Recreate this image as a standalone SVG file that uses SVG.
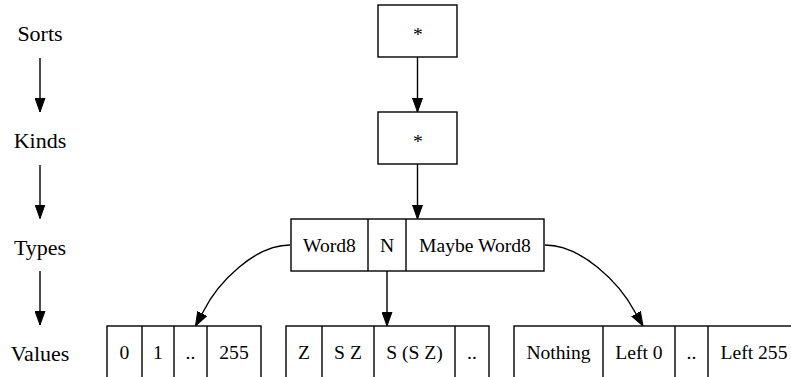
<svg xmlns="http://www.w3.org/2000/svg" width="791" height="377" viewBox="0 0 791 377">
<style>
text{font-family:"Liberation Serif","Times New Roman",serif;font-size:19.6px;fill:#000;text-anchor:middle}
.lbl{font-size:22px}
.box{fill:#fff;stroke:#000;stroke-width:1.4}
.div{stroke:#000;stroke-width:1.4}
.edge{fill:none;stroke:#000;stroke-width:1.4}
</style>
<defs>
<marker id="ah" markerUnits="userSpaceOnUse" markerWidth="15" markerHeight="11" refX="14" refY="5" orient="auto" viewBox="0 0 15 10">
<path d="M0,0 L14,5 L0,10 z" fill="#000" stroke="#000" stroke-width="1"/>
</marker>
</defs>
<rect width="791" height="377" fill="#fff"/>
<g id="edges">
<path class="edge" d="M40,58 L40,112" marker-end="url(#ah)"/>
<path class="edge" d="M40,165 L40,218.5" marker-end="url(#ah)"/>
<path class="edge" d="M40,271 L40,325" marker-end="url(#ah)"/>
<path class="edge" d="M417.5,57 L417.5,112" marker-end="url(#ah)"/>
<path class="edge" d="M417.5,164 L417.5,219" marker-end="url(#ah)"/>
<path class="edge" d="M387,271 L387,326" marker-end="url(#ah)"/>
<path class="edge" d="M290,245 C255,245 218,282 203,312 L195.5,326" marker-end="url(#ah)"/>
<path class="edge" d="M545,245 C581,245 619,282 635,312 L643,326" marker-end="url(#ah)"/>
</g>
<g id="label-sorts"><text class="lbl" x="40" y="41">Sorts</text></g>
<g id="label-kinds"><text class="lbl" x="40" y="148">Kinds</text></g>
<g id="label-types"><text class="lbl" x="40" y="255">Types</text></g>
<g id="label-values"><text class="lbl" x="40" y="361">Values</text></g>
<g id="sort-star">
<rect class="box" x="378" y="5" width="79" height="52"/>
<text x="418" y="40.5">*</text>
</g>
<g id="kind-star">
<rect class="box" x="378" y="112" width="79" height="52"/>
<text x="418" y="147.5">*</text>
</g>
<g id="types">
<rect class="box" x="291" y="219" width="253" height="52"/>
<line class="div" x1="368" y1="219" x2="368" y2="271"/>
<line class="div" x1="406" y1="219" x2="406" y2="271"/>
<text x="329.5" y="252">Word8</text>
<text x="387" y="252">N</text>
<text x="475" y="252">Maybe Word8</text>
</g>
<g id="values-word8">
<rect class="box" x="107" y="326" width="154" height="60"/>
<line class="div" x1="142" y1="326" x2="142" y2="386"/>
<line class="div" x1="174" y1="326" x2="174" y2="386"/>
<line class="div" x1="207" y1="326" x2="207" y2="386"/>
<text x="124.5" y="359">0</text>
<text x="158" y="359">1</text>
<text x="190.5" y="359">..</text>
<text x="234" y="359">255</text>
</g>
<g id="values-n">
<rect class="box" x="286" y="326" width="203" height="60"/>
<line class="div" x1="322" y1="326" x2="322" y2="386"/>
<line class="div" x1="374" y1="326" x2="374" y2="386"/>
<line class="div" x1="455" y1="326" x2="455" y2="386"/>
<text x="304" y="359">Z</text>
<text x="348" y="359">S Z</text>
<text x="414.5" y="359">S (S Z)</text>
<text x="472" y="359">..</text>
</g>
<g id="values-maybe">
<rect class="box" x="514" y="326" width="286" height="60"/>
<line class="div" x1="603" y1="326" x2="603" y2="386"/>
<line class="div" x1="675" y1="326" x2="675" y2="386"/>
<line class="div" x1="708" y1="326" x2="708" y2="386"/>
<text x="558.5" y="359">Nothing</text>
<text x="639" y="359">Left 0</text>
<text x="691.5" y="359">..</text>
<text x="754" y="359">Left 255</text>
</g>
</svg>
